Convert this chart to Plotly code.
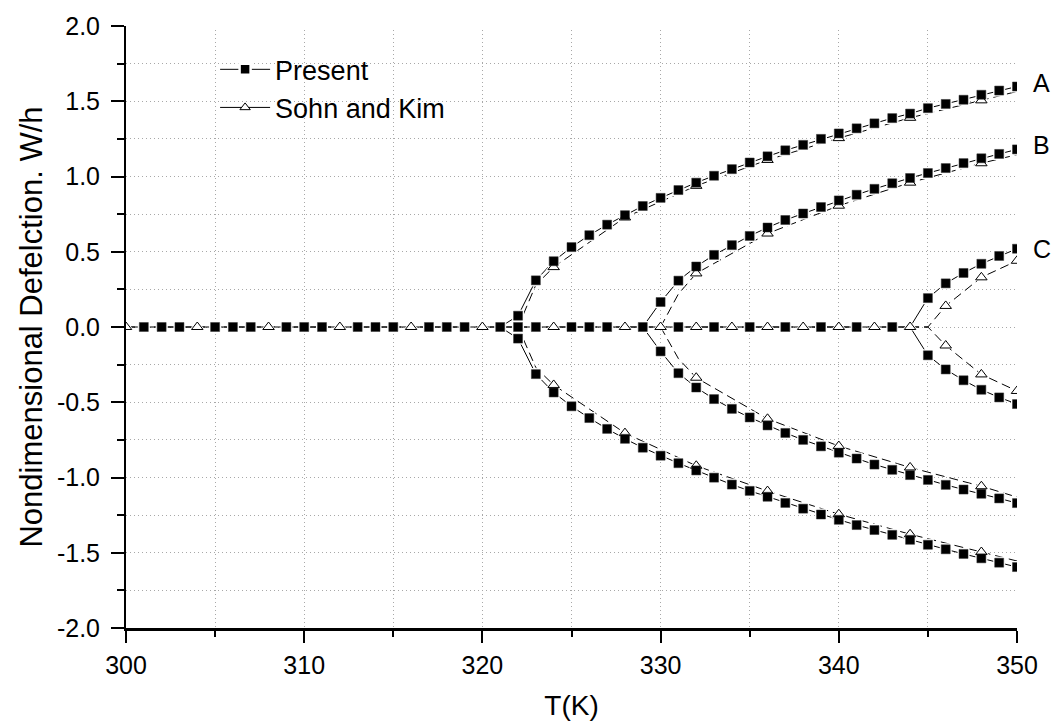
import plotly.graph_objects as go

# ---------------- data ----------------
# Present: every 1 K
T_A = list(range(321, 351))
present_A_up = [0, 0.075, 0.31, 0.437, 0.531, 0.61, 0.68, 0.743, 0.804, 0.858,
                0.91, 0.959, 1.005, 1.049, 1.093, 1.134, 1.174, 1.21, 1.25, 1.286,
                1.32, 1.353, 1.388, 1.418, 1.454, 1.482, 1.51, 1.543, 1.571, 1.598]
present_A_dn = [0, -0.077, -0.313, -0.435, -0.527, -0.605, -0.677, -0.743, -0.802, -0.855,
                -0.905, -0.953, -1.001, -1.047, -1.089, -1.128, -1.169, -1.207, -1.246, -1.281,
                -1.316, -1.349, -1.381, -1.414, -1.447, -1.477, -1.508, -1.537, -1.566, -1.595]

T_B = list(range(329, 351))
present_B_up = [0, 0.166, 0.308, 0.402, 0.479, 0.544, 0.605, 0.661, 0.711, 0.754, 0.797,
                0.841, 0.879, 0.918, 0.955, 0.99, 1.023, 1.056, 1.089, 1.121, 1.15, 1.18]
present_B_dn = [0, -0.162, -0.307, -0.402, -0.479, -0.544, -0.601, -0.654, -0.704, -0.75, -0.793,
                -0.835, -0.874, -0.914, -0.949, -0.984, -1.016, -1.049, -1.08, -1.108, -1.139, -1.17]

T_C = list(range(344, 351))
present_C_up = [0, 0.192, 0.29, 0.359, 0.42, 0.472, 0.52]
present_C_dn = [0, -0.188, -0.282, -0.354, -0.417, -0.468, -0.512]

T_zero_present = list(range(300, 345))

# Sohn and Kim
sohn_zero_T = [300, 304, 308, 312, 316, 320, 324, 328, 330, 332, 334, 336, 338, 340, 342, 344]

sohn_A_T = [322, 323, 324, 328, 332, 336, 340, 344, 348, 350]
sohn_A_up = [0, 0.28, 0.398, 0.728, 0.938, 1.11, 1.255, 1.39, 1.506, 1.565]
sohn_A_dn = [0, -0.27, -0.385, -0.705, -0.922, -1.09, -1.244, -1.377, -1.495, -1.555]
sohn_A_marked = [324, 328, 332, 336, 340, 344, 348]

sohn_B_T = [330, 331, 332, 336, 340, 344, 348, 350]
sohn_B_up = [0, 0.22, 0.356, 0.621, 0.806, 0.959, 1.088, 1.145]
sohn_B_dn = [0, -0.21, -0.337, -0.61, -0.791, -0.933, -1.058, -1.13]
sohn_B_marked = [332, 336, 340, 344, 348]

sohn_C_T = [344, 345, 346, 348, 350]
sohn_C_up = [0, 0, 0.14, 0.33, 0.44]
sohn_C_dn = [0, 0, -0.123, -0.315, -0.425]
sohn_C_marked = [346, 348, 350]

x_ticks = [300, 310, 320, 330, 340, 350]
y_ticks = [-2.0, -1.5, -1.0, -0.5, 0.0, 0.5, 1.0, 1.5, 2.0]
y_tick_labels = ["-2.0", "-1.5", "-1.0", "-0.5", "0.0", "0.5", "1.0", "1.5", "2.0"]
curve_labels = ["A", "B", "C"]
curve_label_y = [1.62, 1.21, 0.52]

X_RANGE = [300, 350]
Y_RANGE = [-2, 2]

# ---------------- figure ----------------
FONT = "Liberation Sans, Arial, sans-serif"
fig = go.Figure()

present_lines = [(T_zero_present, [0] * len(T_zero_present)),
                 (T_A, present_A_up), (T_A, present_A_dn),
                 (T_B, present_B_up), (T_B, present_B_dn),
                 (T_C, present_C_up), (T_C, present_C_dn)]
sohn_lines = [(list(range(300, 345)), [0] * 45),
              (sohn_A_T, sohn_A_up), (sohn_A_T, sohn_A_dn),
              (sohn_B_T, sohn_B_up), (sohn_B_T, sohn_B_dn),
              (sohn_C_T, sohn_C_up), (sohn_C_T, sohn_C_dn)]

for xs, ys in sohn_lines:
    fig.add_trace(go.Scatter(x=xs, y=ys, mode="lines", showlegend=False, hoverinfo="skip",
                             line=dict(color="black", width=1, dash="9px,5px")))
for xs, ys in present_lines:
    fig.add_trace(go.Scatter(x=xs, y=ys, mode="lines", showlegend=False, hoverinfo="skip",
                             line=dict(color="black", width=1)))

# marker positions
sq_x, sq_y = [], []
zero_sq = [t for t in T_zero_present if t not in sohn_zero_T]
sq_x += zero_sq
sq_y += [0] * len(zero_sq)
for xs, ys in present_lines[1:]:
    sq_x += xs[1:]
    sq_y += ys[1:]

tri_x, tri_y = list(sohn_zero_T), [0] * len(sohn_zero_T)
for T, up, dn, marked in [(sohn_A_T, sohn_A_up, sohn_A_dn, sohn_A_marked),
                          (sohn_B_T, sohn_B_up, sohn_B_dn, sohn_B_marked),
                          (sohn_C_T, sohn_C_up, sohn_C_dn, sohn_C_marked)]:
    for t, u, d in zip(T, up, dn):
        if t in marked:
            tri_x += [t, t]
            tri_y += [u, d]

# white halos (gap between line and symbol)
fig.add_trace(go.Scatter(x=sq_x, y=sq_y, mode="markers", showlegend=False, hoverinfo="skip",
                         marker=dict(symbol="square", size=12, color="white")))
fig.add_trace(go.Scatter(x=tri_x, y=tri_y, mode="markers", showlegend=False, hoverinfo="skip",
                         marker=dict(symbol="triangle-up", size=14, color="white")))
# symbols
fig.add_trace(go.Scatter(x=tri_x, y=tri_y, mode="markers", showlegend=False,
                         marker=dict(symbol="triangle-up", size=10, color="white",
                                     line=dict(color="black", width=1))))
fig.add_trace(go.Scatter(x=sq_x, y=sq_y, mode="markers", showlegend=False,
                         marker=dict(symbol="square", size=9, color="black",
                                     line=dict(color="#333", width=0.5))))

# legend entries
fig.add_trace(go.Scatter(x=[None], y=[None], mode="lines+markers", name="Present",
                         line=dict(color="black", width=1),
                         marker=dict(symbol="square", size=11, color="black",
                                     line=dict(color="white", width=2.5))))
fig.add_trace(go.Scatter(x=[None], y=[None], mode="lines+markers", name="Sohn and Kim",
                         line=dict(color="black", width=1),
                         marker=dict(symbol="triangle-up", size=9, color="white",
                                     line=dict(color="black", width=1))))

for lab, yv in zip(curve_labels, curve_label_y):
    fig.add_annotation(x=1, xref="paper", y=yv, yref="y", text=lab, showarrow=False,
                       xanchor="left", xshift=14, font=dict(family=FONT, size=25, color="black"))

# hide the grid lines that fall on the open top and right edges of the frame
fig.add_shape(type="line", layer="between", x0=X_RANGE[0], x1=X_RANGE[1], y0=Y_RANGE[1], y1=Y_RANGE[1],
              xref="x", yref="y", line=dict(color="white", width=3))
fig.add_shape(type="line", layer="between", x0=X_RANGE[1], x1=X_RANGE[1], y0=Y_RANGE[0], y1=Y_RANGE[1],
              xref="x", yref="y", line=dict(color="white", width=3))

grid = dict(gridcolor="#a8a8a8", gridwidth=1, griddash="1px,3px")
fig.update_xaxes(range=X_RANGE, tickmode="array", tickvals=x_ticks,
                 ticks="outside", ticklen=12, tickwidth=2, tickcolor="black",
                 showline=True, linecolor="black", linewidth=2.5, zeroline=False,
                 showgrid=True, **grid,
                 minor=dict(tick0=300, dtick=5, ticks="outside", ticklen=6, tickwidth=2,
                            tickcolor="black", showgrid=True, **grid),
                 tickfont=dict(family=FONT, size=25, color="black"), ticklabelstandoff=1,
                 title=dict(text="T(K)", font=dict(family=FONT, size=28, color="black"), standoff=18))
fig.update_yaxes(range=Y_RANGE, tickmode="array", tickvals=y_ticks, ticktext=y_tick_labels,
                 ticks="outside", ticklen=13, tickwidth=2, tickcolor="black",
                 showline=True, linecolor="black", linewidth=2, zeroline=False,
                 showgrid=True, **grid,
                 minor=dict(tick0=0, dtick=0.25, ticks="outside", ticklen=7, tickwidth=2,
                            tickcolor="black", showgrid=True, **grid),
                 tickfont=dict(family=FONT, size=25, color="black"), ticklabelstandoff=6,
                 title=dict(text="Nondimensional Defelction. W/h",
                            font=dict(family=FONT, size=31, color="black"), standoff=5))

fig.update_layout(width=1059, height=728, autosize=False,
                  margin=dict(l=126, r=42, t=16, b=100),
                  paper_bgcolor="white", plot_bgcolor="white",
                  font=dict(family=FONT, color="black"),
                  legend=dict(x=0.1, y=0.968, xanchor="left", yanchor="top",
                              bgcolor="rgba(0,0,0,0)", itemwidth=50,
                              font=dict(family=FONT, size=27, color="black"),
                              tracegroupgap=0))

fig.write_html("out.html")
